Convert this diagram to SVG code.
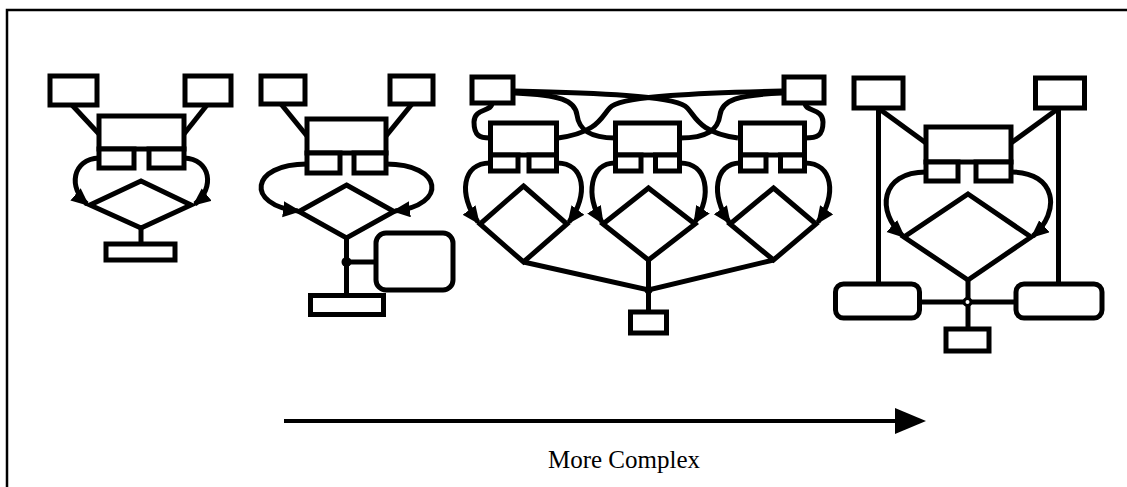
<svg xmlns="http://www.w3.org/2000/svg" width="1127" height="487" viewBox="0 0 1127 487">
  <style>
    .box { fill: #fff; stroke: #000; stroke-width: 5; }
    .rbox { fill: #fff; stroke: #000; stroke-width: 5; }
    .dia { fill: none; stroke: #000; stroke-width: 5; stroke-linejoin: miter; }
    .ln { fill: none; stroke: #000; stroke-width: 5; }
    .arr { fill: none; stroke: #000; stroke-width: 5; marker-end: url(#head); }
    .dot { fill: #000; }
    .label { font-family: "Liberation Serif", "Times New Roman", serif; font-size: 25px; fill: #000; }
  </style>
  <defs>
    <marker id="head" markerUnits="userSpaceOnUse" markerWidth="20" markerHeight="18" refX="15" refY="8" orient="auto">
      <path d="M0,0 L18,8 L0,16 Z" fill="#000"/>
    </marker>
  </defs>

  <rect width="1127" height="487" fill="#fff"/>
  <!-- frame -->
  <path d="M7 487 V10 H1127" fill="none" stroke="#000" stroke-width="2.5"/>

  <!-- connectors -->
  <g id="connectors">
    <!-- example 1 -->
    <line class="ln" x1="72" y1="105" x2="99" y2="134"/>
    <line class="ln" x1="207" y1="105" x2="184" y2="134"/>
    <line class="ln" x1="141" y1="228" x2="141" y2="244"/>
    <path class="arr" d="M99 158 C72 159, 68 188, 87 204"/>
    <path class="arr" d="M184 158 C211 159, 215 188, 195 204"/>

    <!-- example 2 -->
    <line class="ln" x1="281" y1="104" x2="307" y2="136"/>
    <line class="ln" x1="412" y1="104" x2="386" y2="136"/>
    <line class="ln" x1="346.5" y1="238" x2="346.5" y2="296"/>
    <line class="ln" x1="346.5" y1="262" x2="376" y2="262"/>
    <circle class="dot" cx="346.5" cy="262" r="5"/>
    <path class="arr" d="M307 164 C250 164, 245 205, 298 211"/>
    <path class="arr" d="M386 164 C443 164, 448 205, 395 211"/>

    <!-- example 3 -->
    <path class="ln" d="M515 91 C600 93, 670 96, 685 106 C695 113, 695 132, 738 138"/>
    <path class="ln" d="M782 91 C697 93, 627 96, 612 106 C602 113, 602 132, 558 138"/>
    <path class="ln" d="M515 93 C560 95, 575 100, 577 115 C579 130, 590 138, 615 138"/>
    <path class="ln" d="M782 93 C737 95, 722 100, 720 115 C718 130, 707 138, 680 138"/>
    <path class="ln" d="M492 103 C492 112, 474 108, 474 122 C474 136, 480 138, 490 138"/>
    <path class="ln" d="M805 103 C805 112, 823 108, 823 122 C823 136, 817 138, 805 138"/>
    <polyline class="ln" points="523.5,262 648.5,290 773.5,260"/>
    <line class="ln" x1="648.5" y1="260" x2="648.5" y2="312"/>
    <circle class="dot" cx="648.5" cy="290" r="4"/>
    <path class="arr" d="M490 163 C462 163, 458 195, 478 222"/>
    <path class="arr" d="M557 163 C585 163, 589 195, 569 222"/>
    <path class="arr" d="M615 163 C590 163, 585 195, 602 222"/>
    <path class="arr" d="M680 163 C708 163, 712 195, 695 222"/>
    <path class="arr" d="M740 163 C715 163, 710 195, 729 222"/>
    <path class="arr" d="M805 163 C833 163, 837 195, 818 222"/>

    <!-- example 4 -->
    <line class="ln" x1="878" y1="108" x2="926" y2="143"/>
    <line class="ln" x1="1059" y1="108" x2="1011" y2="143"/>
    <line class="ln" x1="878.5" y1="108" x2="878.5" y2="284"/>
    <line class="ln" x1="1058.5" y1="108" x2="1058.5" y2="284"/>
    <line class="ln" x1="968" y1="280" x2="968" y2="329"/>
    <line class="ln" x1="919.5" y1="302" x2="1016" y2="302"/>
    <circle cx="967.5" cy="302" r="3.5" fill="#fff" stroke="#000" stroke-width="3"/>
    <path class="arr" d="M926 172 C880 172, 876 212, 903 236"/>
    <path class="arr" d="M1011 172 C1057 172, 1061 212, 1033 236"/>

    <!-- complexity axis -->
    <line x1="284" y1="421" x2="900" y2="421" stroke="#000" stroke-width="4"/>
    <polygon points="895,408 926,421 895,434" fill="#000"/>
  </g>

  <!-- example 1 nodes -->
  <g id="ex1">
    <rect class="box" x="50" y="76" width="47" height="29"/>
    <rect class="box" x="185" y="76" width="46" height="29"/>
    <rect class="box" x="99" y="116" width="85" height="33"/>
    <rect class="box" x="99" y="149" width="35" height="19"/>
    <rect class="box" x="149" y="149" width="35" height="19"/>
    <polygon class="dia" points="141,181 191,205 141,228 90,205"/>
    <rect class="box" x="106" y="244" width="69" height="16"/>
  </g>

  <!-- example 2 nodes -->
  <g id="ex2">
    <rect class="box" x="261" y="76" width="44" height="28"/>
    <rect class="box" x="390" y="76" width="43" height="28"/>
    <rect class="box" x="307" y="119" width="79" height="34"/>
    <rect class="box" x="307" y="153" width="33" height="20"/>
    <rect class="box" x="354" y="153" width="32" height="20"/>
    <polygon class="dia" points="346.5,185 394,211.5 346.5,238 299,211.5"/>
    <rect class="rbox" x="376" y="233" width="77" height="57" rx="10"/>
    <rect class="box" x="310.5" y="295.5" width="73" height="19"/>
  </g>

  <!-- example 3 nodes -->
  <g id="ex3">
    <rect class="box" x="472" y="77" width="41" height="26"/>
    <rect class="box" x="784" y="77" width="40" height="26"/>
    <rect class="box" x="490.5" y="123" width="66" height="32"/>
    <rect class="box" x="615.5" y="123" width="64" height="32"/>
    <rect class="box" x="740.5" y="123" width="64" height="32"/>
    <rect class="box" x="490.5" y="155" width="27.5" height="16"/>
    <rect class="box" x="529" y="155" width="27.5" height="16"/>
    <rect class="box" x="615.5" y="155" width="25.5" height="16"/>
    <rect class="box" x="655.5" y="155" width="24" height="16"/>
    <rect class="box" x="740.5" y="155" width="25.5" height="16"/>
    <rect class="box" x="780.5" y="155" width="24" height="16"/>
    <polygon class="dia" points="523.5,186 567,224 523.5,262 480,224"/>
    <polygon class="dia" points="648.5,188 695,224 648.5,260 603,224"/>
    <polygon class="dia" points="773.5,188 816,224 773.5,260 730,224"/>
    <rect class="box" x="630.5" y="312" width="36" height="21"/>
  </g>

  <!-- example 4 nodes -->
  <g id="ex4">
    <rect class="box" x="854" y="78" width="49" height="30"/>
    <rect class="box" x="1035.5" y="78" width="49" height="30"/>
    <rect class="box" x="926" y="127" width="85" height="35"/>
    <rect class="box" x="926" y="162" width="32" height="19"/>
    <rect class="box" x="976" y="162" width="35" height="19"/>
    <polygon class="dia" points="968,194 1031,237 968,280 904,237"/>
    <rect class="rbox" x="835.5" y="284" width="84" height="34" rx="8"/>
    <rect class="rbox" x="1016" y="284" width="86" height="34" rx="8"/>
    <rect class="box" x="946" y="329" width="43" height="22"/>
  </g>

  <g id="axis-label">
    <text class="label" x="624" y="468" text-anchor="middle">More Complex</text>
  </g>
</svg>
